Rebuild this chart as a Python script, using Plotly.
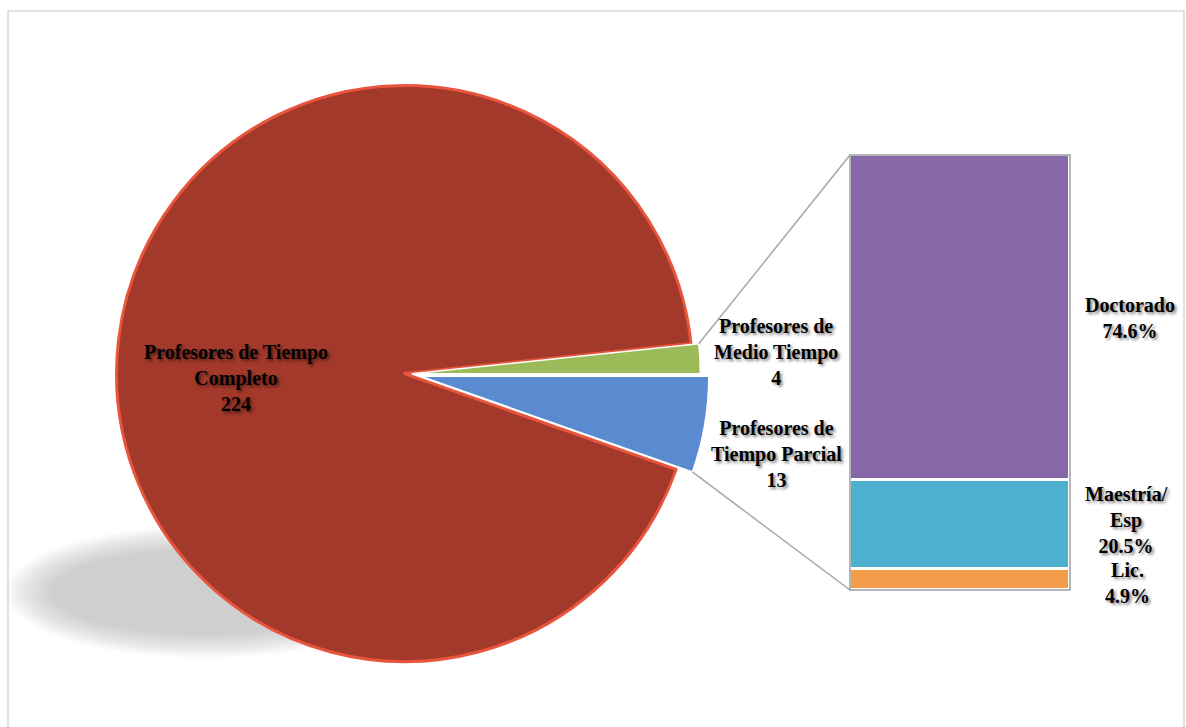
import math
import plotly.graph_objects as go

# ---------------- data ----------------
pie_labels = ["Profesores de<br>Tiempo Parcial", "Profesores de Tiempo<br>Completo", "Profesores de<br>Medio Tiempo"]
pie_values = [13, 224, 4]
pie_colors = ["#5A8AD0", "#A3392B", "#9BBB59"]
pie_pull = [0.045, 0.012, 0.015]

bar_labels = ["Lic.", "Maestría/<br>Esp", "Doctorado"]
bar_values = [4.9, 20.5, 74.6]
bar_colors = ["#F39C4B", "#4DB0CF", "#8667A8"]

# ---------------- geometry (pixels) ----------------
W, H = 1186, 727
CX, CY, R = 408, 374, 288          # pie centre / radius
BX0, BX1, BY0, BY1 = 850, 1070, 155, 590  # bar box (top=BY0, bottom=BY1)


def px(x):
    return x / W


def py(y):
    return 1 - y / H


maxpull = max(pie_pull)
D = R * (1 + maxpull)

fig = go.Figure()

fig.add_trace(go.Pie(
    labels=pie_labels,
    values=pie_values,
    sort=False,
    direction="clockwise",
    rotation=90,
    pull=pie_pull,
    marker=dict(colors=pie_colors,
                line=dict(color=["#FFFFFF", "#E8553C", "#FFFFFF"], width=[1.5, 3, 1.5])),
    textinfo="none",
    hoverinfo="label+value",
    showlegend=False,
    domain=dict(x=[px(CX - D), px(CX + D)], y=[py(CY + D), py(CY - D)]),
))

for lab, val, col in zip(bar_labels, bar_values, bar_colors):
    fig.add_trace(go.Bar(
        x=[0], y=[val], width=[1], name=lab,
        marker=dict(color=col, line=dict(color="#FFFFFF", width=3)),
        showlegend=False, hoverinfo="name+y",
    ))

fig.update_layout(
    width=W, height=H,
    margin=dict(l=0, r=0, t=0, b=0),
    paper_bgcolor="white", plot_bgcolor="rgba(0,0,0,0)",
    barmode="stack", bargap=0,
    xaxis=dict(domain=[px(BX0), px(BX1)], range=[-0.5, 0.5], visible=False, fixedrange=True),
    yaxis=dict(domain=[py(BY1), py(BY0)], range=[0, sum(bar_values)], visible=False, fixedrange=True),
)

shapes = []
# chart area border
shapes.append(dict(type="rect", xref="paper", yref="paper",
                   x0=px(8), x1=px(1184), y0=py(732), y1=py(11),
                   line=dict(color="#D9D9D9", width=1.5), layer="below"))
# soft shadow under the pie
for i in range(14):
    rx = 200 - i * 3.5
    ry = 66 - i * 1.8
    sx, sy = 205, 592
    shapes.append(dict(type="circle", xref="paper", yref="paper",
                       x0=px(sx - rx), x1=px(sx + rx), y0=py(sy + ry), y1=py(sy - ry),
                       fillcolor="rgba(155,155,155,0.045)", line=dict(width=0), layer="below"))

# connector lines from the pie to the bar, computed from slice angles
total = sum(pie_values)
a_green_top = math.radians(360 * pie_values[2] / total)  # counter-clockwise from 3 o'clock
gp = pie_pull[2] * R
gmid = a_green_top / 2
x_top = CX + R * math.cos(a_green_top) + gp * math.cos(gmid)
y_top = CY - R * math.sin(a_green_top) - gp * math.sin(gmid)
a_blue_bot = math.radians(360 * pie_values[0] / total)
bp = pie_pull[0] * R
bmid = a_blue_bot / 2
x_bot = CX + R * math.cos(a_blue_bot) + bp * math.cos(bmid)
y_bot = CY + R * math.sin(a_blue_bot) + bp * math.sin(bmid)

shapes.append(dict(type="line", xref="paper", yref="paper",
                   x0=px(x_top), y0=py(y_top), x1=px(BX0), y1=py(BY0),
                   line=dict(color="#A6A6A6", width=1.5)))
shapes.append(dict(type="line", xref="paper", yref="paper",
                   x0=px(x_bot), y0=py(y_bot), x1=px(BX0), y1=py(BY1),
                   line=dict(color="#A6A6A6", width=1.5)))
# bar outline
shapes.append(dict(type="rect", xref="paper", yref="paper",
                   x0=px(BX0), x1=px(BX1), y0=py(BY1), y1=py(BY0),
                   line=dict(color="#9E9E9E", width=1.5)))
fig.update_layout(shapes=shapes)

font = dict(family="Liberation Serif", size=20, color="black", weight="bold",
            shadow="2px 2px 3px rgba(0,0,0,0.5)")

# pie labels (paper positions)
pie_label_pos = [(776, 454), (236, 378), (776, 352)]
for lab, val, (x, y) in zip(pie_labels, pie_values, pie_label_pos):
    fig.add_annotation(x=px(x), y=py(y), xref="paper", yref="paper",
                       text=f"{lab}<br>{val}", showarrow=False,
                       xanchor="center", yanchor="middle", align="center", font=font)

bar_label_pos = [(1127, 583), (1126, 520), (1130, 318)]
for lab, val, (x, y) in zip(bar_labels, bar_values, bar_label_pos):
    fig.add_annotation(x=px(x), y=py(y), xref="paper", yref="paper",
                       text=f"{lab}<br>{val:.1f}%", showarrow=False,
                       xanchor="center", yanchor="middle", align="center", font=font)

fig.write_html("out.html",
               config={"displayModeBar": False},
               post_script="document.body.style.margin='0';document.body.style.overflow='hidden';")
